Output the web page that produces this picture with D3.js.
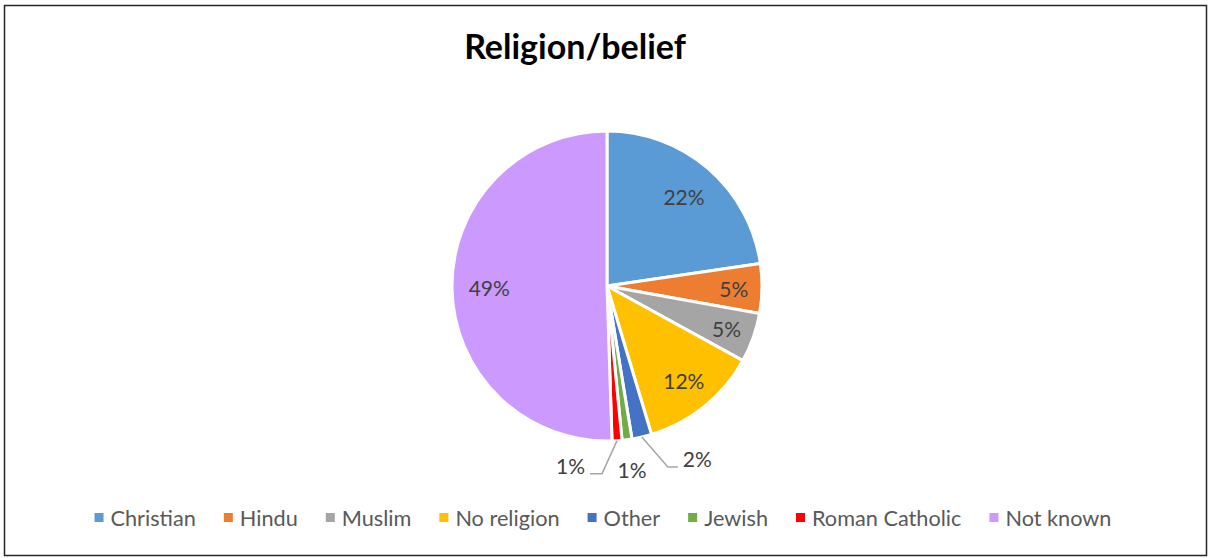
<!DOCTYPE html>
<html>
<head>
<meta charset="utf-8">
<script src="https://cdn.jsdelivr.net/npm/d3@7"></script>
<style>
  html, body { margin: 0; padding: 0; background: #fff; }
  svg { display: block; }
</style>
</head>
<body>
<svg id="chart" width="1208" height="558"></svg>
<script>
// ---- data ----
const categories = ["Christian", "Hindu", "Muslim", "No religion", "Other", "Jewish", "Roman Catholic", "Not known"];
const values = [22, 5, 5, 12, 2, 1, 1, 49];
const colors = ["#5B9BD5", "#ED7D31", "#A5A5A5", "#FFC000", "#4472C4", "#70AD47", "#FF0000", "#CC99FF"];
const titleText = "Religion/belief";

// ---- layout ----
const W = 1208, H = 558;
const cx = 607, cy = 286, R = 155;
const FONT = "Lato, 'Noto Sans', sans-serif";
// outside-label placement (leader offsets) for small slices, by category index
const outside = {
  4: { elbow: [26, 30], run: 10, anchor: "start" },
  5: { elbow: [0, 0], run: 0, anchor: "middle", text: [5, 38] },
  6: { elbow: [-15, 33], run: -12, anchor: "end" }
};

const svg = d3.select("#chart");
svg.append("rect").attr("x", 0).attr("y", 0).attr("width", W).attr("height", H).attr("fill", "#fff");
svg.append("rect")
  .attr("x", 4.5).attr("y", 5.5).attr("width", 1202).attr("height", 550)
  .attr("fill", "none").attr("stroke", "#262626").attr("stroke-width", 1.5);

svg.append("text")
  .attr("x", 575).attr("y", 59)
  .attr("text-anchor", "middle")
  .attr("font-family", FONT).attr("font-weight", "bold").attr("font-size", 34)
  .attr("fill", "#000")
  .text(titleText);

const data = categories.map((c, i) => ({ name: c, value: values[i], color: colors[i], i }));
const pie = d3.pie().value(d => d.value).sort(null);
const arcs = pie(data);
const arc = d3.arc().innerRadius(0).outerRadius(R);

const g = svg.append("g").attr("transform", `translate(${cx},${cy})`);
g.selectAll("path.slice").data(arcs).join("path")
  .attr("class", "slice")
  .attr("d", arc)
  .attr("fill", d => d.data.color)
  .attr("stroke", "#fff").attr("stroke-width", 3).attr("stroke-linejoin", "round");

const pctLabel = d => d.data.value + "%";
const labelStyle = sel => sel.attr("font-family", FONT).attr("font-size", 21).attr("fill", "#404040");

arcs.forEach(a => {
  const o = outside[a.data.i];
  const mid = (a.startAngle + a.endAngle) / 2;
  if (!o) {
    const span = a.endAngle - a.startAngle;
    const r = R * (0.76 + 0.08 * (1 - Math.min(1, span / 1.2)));
    const x = r * Math.sin(mid), y = -r * Math.cos(mid);
    g.append("text")
      .attr("x", x).attr("y", y)
      .attr("text-anchor", "middle").attr("dominant-baseline", "central")
      .call(labelStyle)
      .text(pctLabel(a));
  } else {
    const sx = R * Math.sin(mid), sy = -R * Math.cos(mid);
    if (o.run !== 0) {
      const ex = sx + o.elbow[0], ey = sy + o.elbow[1];
      const tx = ex + o.run;
      g.append("polyline")
        .attr("points", [[sx, sy], [ex, ey], [tx, ey]].map(p => p.join(",")).join(" "))
        .attr("fill", "none").attr("stroke", "#A6A6A6").attr("stroke-width", 1.5);
      g.append("text")
        .attr("x", tx + (o.anchor === "start" ? 5 : -5)).attr("y", ey)
        .attr("text-anchor", o.anchor)
        .call(labelStyle)
        .text(pctLabel(a));
    } else {
      g.append("text")
        .attr("x", sx + o.text[0]).attr("y", sy + o.text[1])
        .attr("text-anchor", o.anchor)
        .call(labelStyle)
        .text(pctLabel(a));
    }
  }
});

// ---- legend ----
const legend = svg.append("g");
const items = legend.selectAll("g.item").data(data).join("g").attr("class", "item");
items.append("rect").attr("width", 9).attr("height", 9).attr("y", -5).attr("fill", d => d.color);
items.append("text")
  .attr("x", 16).attr("y", 0).attr("dominant-baseline", "central")
  .attr("font-family", FONT).attr("font-size", 21.7).attr("fill", "#595959")
  .text(d => d.name);
let xPos = 0;
const gap = 28;
items.each(function() {
  const w = d3.select(this).select("text").node().getComputedTextLength();
  d3.select(this).attr("transform", `translate(${xPos},0)`);
  xPos += 16 + w + gap;
});
const total = xPos - gap;
legend.attr("transform", `translate(${603 - total / 2},518)`);
</script>
</body>
</html>
